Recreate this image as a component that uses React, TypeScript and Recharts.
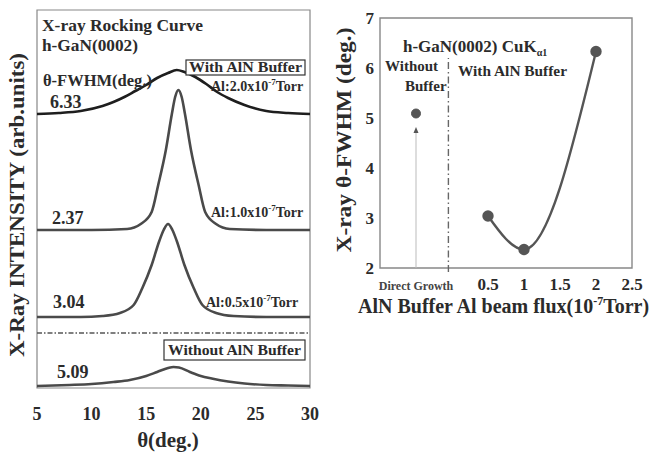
import React from 'react';
import { LineChart, Line, XAxis, YAxis, ReferenceLine, ReferenceArea, ReferenceDot } from 'recharts';

const thetaA = [5, 7, 9, 11, 12, 13, 14, 15, 16, 17, 17.8, 18.5, 19.5, 20.5, 21.5, 22.5, 24, 26, 28, 30];
const intensityA = [274, 275, 277, 282, 286, 291, 297, 303, 310, 315, 318, 316, 311, 304, 296, 290, 283, 277, 275, 274];

const thetaB = [5, 10, 13.25, 14.5, 15.5, 16.1, 16.8, 17.35, 17.65, 17.95, 18.25, 18.55, 19.1, 19.8, 20.4, 21.4, 22.65, 26, 30];
const intensityB = [158, 158, 159, 164, 176, 203, 238, 274, 291, 298, 291, 274, 238, 203, 176, 164, 159, 158, 158];

const thetaC = [5, 9, 11, 12.6, 13.85, 14.65, 15.5, 16.2, 16.6, 17, 17.4, 17.8, 18.5, 19.35, 20.15, 21.4, 23, 26, 30];
const intensityC = [71, 71, 72, 75, 83, 100, 123, 147, 158, 164, 158, 147, 123, 100, 83, 75, 72, 71, 71];

const thetaD = [5, 8, 10, 12, 13.5, 15, 16, 17, 17.5, 18, 19, 20, 21, 22.5, 24, 26, 28, 30];
const intensityD = [2, 3, 4, 6, 8, 12, 16, 20, 21, 20.5, 16, 12, 9.5, 6.5, 4.5, 3, 2.5, 2];

const thetaTicks = [5, 10, 15, 20, 25, 30];
const separatorLevel = 55;

// right panel: FWHM vs Al beam flux
const fluxValues = [0.5, 1, 2];
const fwhmValues = [3.04, 2.37, 6.33];
const directGrowthX = -0.5;
const directGrowthFwhm = 5.09;
const fluxTicks = [-0.5, 0.5, 1, 1.5, 2, 2.5];
const fwhmTicks = [2, 3, 4, 5, 6, 7];

const toRows = (xs: number[], ys: number[]) => xs.map((x, i) => ({ x, y: ys[i] }));

const curveA = toRows(thetaA, intensityA);
const curveB = toRows(thetaB, intensityB);
const curveC = toRows(thetaC, intensityC);
const curveD = toRows(thetaD, intensityD);
const fwhmRows = toRows(fluxValues, fwhmValues);
const directRows = [{ x: directGrowthX, y: directGrowthFwhm }];

const FONT = '"Liberation Serif", "DejaVu Serif", serif';
const INK = '#2b2b2b';

const tickStyle = { fontFamily: FONT, fontWeight: 700, fill: INK };

function FluxTick(props: any) {
  const { x, y, payload } = props;
  if (payload.value === directGrowthX) {
    return (
      <text x={x} y={y} dy="1em" textAnchor="middle" fontFamily={FONT} fontWeight={700} fontSize={12} fill="#444">
        Direct Growth
      </text>
    );
  }
  return (
    <text x={x} y={y} dy="0.71em" textAnchor="middle" fontFamily={FONT} fontWeight={700} fontSize={17} fill={INK}>
      {payload.value}
    </text>
  );
}

function ArrowHead(props: any) {
  const { cx, cy } = props;
  return <path d={`M${cx},${cy} L${cx - 2.5},${cy + 6} L${cx + 2.5},${cy + 6} Z`} fill="#555" />;
}

function Sup({ children }: { children: React.ReactNode }) {
  return (
    <tspan dy={-6} fontSize={9}>
      {children}
    </tspan>
  );
}

export default function App() {
  const t = { fontFamily: FONT, fontWeight: 700, fill: INK } as const;
  return (
    <div style={{ position: 'absolute', left: 0, top: 0, width: 654, height: 454, background: '#fff' }}>
      <div style={{ position: 'absolute', left: 0, top: 0 }}>
        <LineChart width={330} height={454} margin={{ top: 10, right: 20, bottom: 36, left: 37 }}>
          <XAxis
            type="number"
            dataKey="x"
            domain={[5, 30]}
            ticks={thetaTicks}
            height={30}
            axisLine={false}
            tickLine={false}
            tickSize={6}
            tickMargin={13}
            tick={{ ...tickStyle, fontSize: 18 }}
          />
          <YAxis type="number" dataKey="y" domain={[0, 378]} hide />
          <ReferenceArea x1={5} x2={30} y1={0} y2={378} fill="none" stroke="#888" strokeWidth={1.2} />
          <ReferenceLine y={separatorLevel} stroke="#555" strokeWidth={1.4} strokeDasharray="5 2 1.5 2" />
          <Line data={curveA} dataKey="y" type="monotone" stroke="#1e1e1e" strokeWidth={2.6} dot={false} isAnimationActive={false} />
          <Line data={curveB} dataKey="y" type="monotone" stroke="#4a4a4a" strokeWidth={2.6} dot={false} isAnimationActive={false} />
          <Line data={curveC} dataKey="y" type="monotone" stroke="#4a4a4a" strokeWidth={2.6} dot={false} isAnimationActive={false} />
          <Line data={curveD} dataKey="y" type="monotone" stroke="#4a4a4a" strokeWidth={2.6} dot={false} isAnimationActive={false} />
        </LineChart>
      </div>

      <div style={{ position: 'absolute', left: 330, top: 0 }}>
        <LineChart width={324} height={454} margin={{ top: 18, right: 22, bottom: 156, left: 0 }}>
          <XAxis
            type="number"
            dataKey="x"
            domain={[-1, 2.5]}
            ticks={fluxTicks}
            height={30}
            axisLine={false}
            tickLine={false}
            tickSize={6}
            tickMargin={4}
            tick={<FluxTick />}
          />
          <YAxis
            type="number"
            dataKey="y"
            domain={[2, 7]}
            ticks={fwhmTicks}
            width={50}
            axisLine={false}
            tickLine={false}
            tickSize={4}
            tickMargin={2}
            tick={{ ...tickStyle, fontSize: 17 }}
          />
          <ReferenceArea x1={-1} x2={2.5} y1={2} y2={7} fill="none" stroke="#888" strokeWidth={1.4} />
          <ReferenceLine
            segment={[{ x: directGrowthX, y: 2 }, { x: directGrowthX, y: 4.75 }]}
            stroke="#bbb"
            strokeWidth={1}
          />
          <ReferenceDot x={directGrowthX} y={4.82} r={3} shape={<ArrowHead />} />
          <ReferenceLine
            segment={[{ x: -0.05, y: 1.92 }, { x: -0.05, y: 6.2 }]}
            ifOverflow="visible"
            stroke="#666"
            strokeWidth={1.4}
            strokeDasharray="7 3 1.5 3"
          />
          <Line
            data={fwhmRows}
            dataKey="y"
            type="monotone"
            stroke="#555"
            strokeWidth={2.4}
            dot={{ r: 4.5, fill: '#555', stroke: '#555' }}
            isAnimationActive={false}
          />
          <Line
            data={directRows}
            dataKey="y"
            stroke="none"
            dot={{ r: 4.5, fill: '#555', stroke: '#555' }}
            isAnimationActive={false}
          />
        </LineChart>
      </div>

      <svg width={654} height={454} style={{ position: 'absolute', left: 0, top: 0, pointerEvents: 'none' }}>
        {/* left panel labels */}
        <text x={42} y={31} fontSize={17} textLength={161} lengthAdjust="spacingAndGlyphs" {...t}>X-ray Rocking Curve</text>
        <text x={42} y={51} fontSize={17} textLength={96} lengthAdjust="spacingAndGlyphs" {...t}>h-GaN(0002)</text>
        <rect x={186} y={60} width={119} height={15} fill="#fff" stroke="#333" strokeWidth={1.2} />
        <text x={189} y={72} fontSize={15} textLength={113} lengthAdjust="spacingAndGlyphs" {...t}>With AlN Buffer</text>
        <text x={43} y={86} fontSize={16} textLength={109} lengthAdjust="spacingAndGlyphs" {...t}>θ-FWHM(deg.)</text>
        <text x={211} y={91} fontSize={14} {...t}>Al:2.0x10<Sup>-7</Sup><tspan dy={6}>Torr</tspan></text>
        <text x={50} y={108} fontSize={18} {...t}>6.33</text>
        <text x={211} y={217} fontSize={14} {...t}>Al:1.0x10<Sup>-7</Sup><tspan dy={6}>Torr</tspan></text>
        <text x={52} y={224} fontSize={18} {...t}>2.37</text>
        <text x={206} y={307} fontSize={14} {...t}>Al:0.5x10<Sup>-7</Sup><tspan dy={6}>Torr</tspan></text>
        <text x={53} y={308} fontSize={18} {...t}>3.04</text>
        <rect x={164} y={340} width={141} height={20} fill="#fff" stroke="#333" strokeWidth={1.2} />
        <text x={168} y={355} fontSize={15} textLength={133} lengthAdjust="spacingAndGlyphs" {...t}>Without AlN Buffer</text>
        <text x={57} y={378} fontSize={18} {...t}>5.09</text>
        <text x={168} y={447} fontSize={21} textAnchor="middle" {...t}>θ(deg.)</text>
        <text
          transform="translate(24,205) rotate(-90)"
          textAnchor="middle"
          fontSize={21}
          textLength={304}
          lengthAdjust="spacingAndGlyphs"
          {...t}
        >
          X-Ray INTENSITY (arb.units)
        </text>

        {/* right panel labels */}
        <text x={403} y={52} fontSize={17} {...t}>
          h-GaN(0002) CuK<tspan dy={4} fontSize={10}>α1</tspan>
        </text>
        <text x={385} y={71} fontSize={15} {...t}>Without</text>
        <text x={405} y={91} fontSize={15} {...t}>Buffer</text>
        <text x={458} y={76} fontSize={15} textLength={109} lengthAdjust="spacingAndGlyphs" {...t}>With AlN Buffer</text>
        <text
          transform="translate(351,140) rotate(-90)"
          textAnchor="middle"
          fontSize={20}
          textLength={225}
          lengthAdjust="spacingAndGlyphs"
          {...t}
        >
          X-ray θ-FWHM (deg.)
        </text>
        <text x={358} y={313} fontSize={20} {...t}>
          AlN Buffer Al beam flux(10<tspan dy={-8} fontSize={12}>-7</tspan><tspan dy={8}>Torr)</tspan>
        </text>
      </svg>
    </div>
  );
}
